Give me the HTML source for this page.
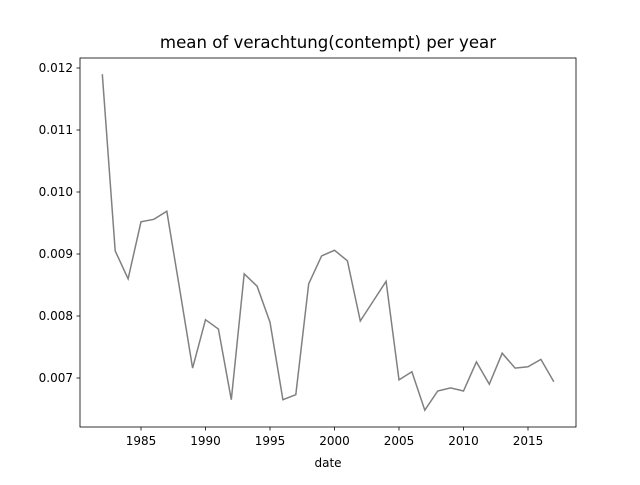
<!DOCTYPE html>
<html><head><meta charset="utf-8"><style>body{margin:0;background:#fff}svg text{font-family:"DejaVu Sans","Liberation Sans",sans-serif;fill:#000}</style></head>
<body>
<svg id="chart" width="640" height="480" xmlns="http://www.w3.org/2000/svg">
<rect width="640" height="480" fill="#fff"/>
<text x="328" y="48" font-size="16.6" text-anchor="middle">mean of verachtung(contempt) per year</text>
<g id="yticks"></g>
<g id="xticks"></g>
<text x="328" y="467" font-size="12" text-anchor="middle">date</text>
<path id="line" fill="none" stroke="#808080" stroke-width="1.5"/>
<rect x="80" y="58" width="496" height="369" fill="none" stroke="#000" stroke-width="0.8"/>
</svg>
<script>
const years=[1982,1983,1984,1985,1986,1987,1988,1989,1990,1991,1992,1993,1994,1995,1996,1997,1998,1999,2000,2001,2002,2003,2004,2005,2006,2007,2008,2009,2010,2011,2012,2013,2014,2015,2016,2017];
const values=[0.01190,0.00905,0.00860,0.00952,0.00956,0.00969,0.00843,0.00716,0.00794,0.00779,0.00665,0.00868,0.00848,0.00790,0.00665,0.00673,0.00852,0.00897,0.00906,0.00889,0.00792,0.00824,0.00856,0.00697,0.00710,0.00648,0.00679,0.00684,0.00679,0.00726,0.00690,0.00740,0.00716,0.00718,0.00730,0.00694];
const yTicks=[0.007,0.008,0.009,0.010,0.011,0.012];
const xTicks=[1985,1990,1995,2000,2005,2010,2015];
const ns="http://www.w3.org/2000/svg";
function xs(v){return 141+(v-1985)*(528-141)/30;}
function ys(v){return 378-(v-0.007)*62000;}
function mk(t,a,p){const e=document.createElementNS(ns,t);for(const k in a)e.setAttribute(k,a[k]);p.appendChild(e);return e;}
const yg=document.getElementById('yticks'),xg=document.getElementById('xticks');
yTicks.forEach(v=>{const y=ys(v);
const l=mk('line',{x1:76.5,x2:80,y1:y,y2:y,stroke:'#000','stroke-width':0.8},yg);


const t=mk('text',{x:73,y:y+4,'font-size':12,'text-anchor':'end'},yg);t.textContent=v.toFixed(3);

});
xTicks.forEach(v=>{const x=xs(v);
const l=mk('line',{x1:x,x2:x,y1:427,y2:430.5,stroke:'#000','stroke-width':0.8},xg);


const t=mk('text',{x:x,y:445,'font-size':12,'text-anchor':'middle'},xg);t.textContent=v;

});
document.getElementById('line').setAttribute('d',years.map((y,i)=>(i?'L':'M')+xs(y).toFixed(1)+','+ys(values[i]).toFixed(1)).join(''));
</script>
</body></html>
